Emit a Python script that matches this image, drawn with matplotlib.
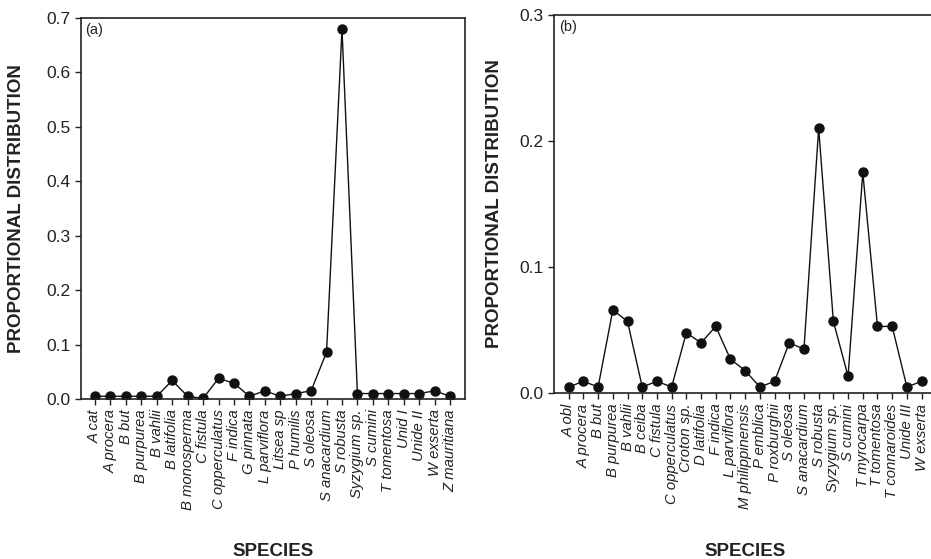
import matplotlib
matplotlib.use("Agg")
from matplotlib import pyplot as plt

plt.rcParams["font.family"] = ["Liberation Sans", "DejaVu Sans"]

# Panel (a) data
species_a = [
    "A cat", "A procera", "B but", "B purpurea", "B vahlii", "B latifolia",
    "B monosperma", "C fistula", "C opperculatus", "F indica", "G pinnata",
    "L parviflora", "Litsea sp", "P humilis", "S oleosa", "S anacardium",
    "S robusta", "Syzygium sp.", "S cumini", "T tomentosa", "Unid I",
    "Unide II", "W exserta", "Z mauritiana",
]
values_a = [
    0.005, 0.005, 0.005, 0.005, 0.005, 0.034, 0.005, 0.001, 0.038, 0.029,
    0.005, 0.015, 0.005, 0.010, 0.015, 0.086, 0.679, 0.010, 0.010, 0.010,
    0.010, 0.010, 0.015, 0.005,
]
yticks_a = [0.0, 0.1, 0.2, 0.3, 0.4, 0.5, 0.6, 0.7]

# Panel (b) data
species_b = [
    "A obl", "A procera", "B but", "B purpurea", "B vahlii", "B ceiba",
    "C fistula", "C opperculatus", "Croton sp.", "D latifolia", "F indica",
    "L parviflora", "M philippinensis", "P emblica", "P roxburghii",
    "S oleosa", "S anacardium", "S robusta", "Syzygium sp.", "S cumini",
    "T myrocarpa", "T tomentosa", "T connaroides", "Unide III", "W exserta",
]
values_b = [
    0.005, 0.0095, 0.005, 0.066, 0.057, 0.005, 0.0095, 0.005, 0.048, 0.040,
    0.053, 0.027, 0.018, 0.005, 0.0095, 0.040, 0.035, 0.210, 0.057, 0.0135,
    0.175, 0.053, 0.053, 0.005, 0.0095,
]
yticks_b = [0.0, 0.1, 0.2, 0.3]

fig = plt.figure(figsize=(9.31, 5.59), dpi=100)
W, H = 931.0, 559.0


def panel(rect_px, names, vals, yticks, letter, xlim):
    l, r, t, b = rect_px
    ax = fig.add_axes([l / W, (H - b) / H, (r - l) / W, (b - t) / H])
    x = list(range(len(names)))
    ax.plot(x, vals, "-", color="#111111", lw=1.0, marker="o",
            markersize=6.5, markerfacecolor="#111111", markeredgecolor="#111111")
    ax.set_xlim(*xlim)
    ax.set_ylim(yticks[0], yticks[-1])
    ax.set_xticks(x)
    ax.set_xticklabels(names, rotation=90, style="italic", fontsize=10.7,
                       color="#222222")
    ax.set_yticks(yticks)
    ax.set_yticklabels([f"{v:.1f}" for v in yticks], fontsize=12.5,
                       color="#222222")
    ax.tick_params(direction="out", length=4, width=1, color="#222222")
    for s in ax.spines.values():
        s.set_color("#222222")
        s.set_linewidth(1.2)
    ax.set_ylabel("PROPORTIONAL DISTRIBUTION", fontsize=13.5, fontweight="bold",
                  color="#222222")
    ax.set_xlabel("SPECIES", fontsize=13.5, fontweight="bold", color="#222222")
    ax.text(0.012, 0.985, letter, transform=ax.transAxes, ha="left", va="top",
            fontsize=10.5, color="#222222")
    return ax


ax1 = panel((81, 465, 17.7, 399), species_a, values_a, yticks_a, "(a)",
            (-0.91, 23.97))
ax1.yaxis.set_label_coords(-0.145, 0.5)
ax1.xaxis.set_label_coords(0.5, -0.378)

ax2 = panel((554.3, 936, 14.7, 393.3), species_b, values_b, yticks_b, "(b)",
            (-0.98, 24.98))
ax2.yaxis.set_label_coords(-0.134, 0.5)
ax2.xaxis.set_label_coords(0.5, -0.395)

fig.savefig("out.png", dpi=100)
